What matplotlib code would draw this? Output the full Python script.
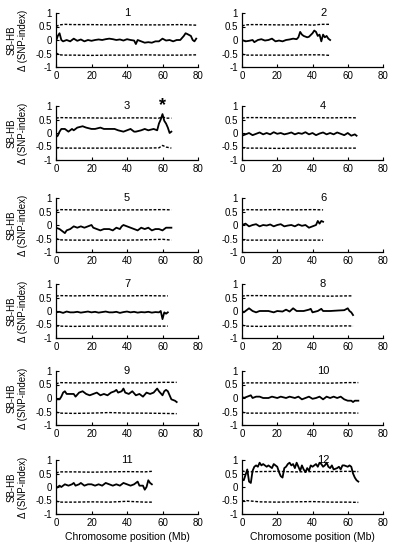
import matplotlib
matplotlib.use("Agg")
import matplotlib.pyplot as plt

plt.rcParams['font.family'] = ['Liberation Sans', 'DejaVu Sans']
plt.rcParams['axes.unicode_minus'] = False

# delta SNP-index per chromosome (position in Mb, value)
pos1 = [0, 1, 2, 3, 4, 6, 8, 10, 12, 14, 16, 18, 20, 22, 24, 26, 28, 30, 32, 34, 36, 38, 40, 42, 44, 45, 46, 48, 50, 52, 54, 56, 58, 60, 62, 64, 66, 68, 70, 72, 73, 74, 76, 77, 78, 79]
d1 = [-0.05, 0.15, 0.25, 0.0, -0.05, 0.0, -0.05, 0.05, -0.03, 0.02, -0.05, 0.0, -0.03, 0.0, 0.02, 0.0, 0.03, 0.05, 0.03, 0.0, 0.02, -0.02, 0.03, 0.0, -0.02, -0.15, 0.0, -0.05, -0.1, -0.08, -0.1, -0.05, -0.05, 0.05, -0.02, 0.0, -0.05, 0.0, 0.0, 0.15, 0.25, 0.22, 0.15, 0.0, -0.05, 0.05]

pos2 = [0, 2, 4, 6, 7, 9, 11, 13, 15, 17, 19, 21, 23, 25, 27, 29, 31, 32, 33, 34, 35, 37, 38, 40, 41, 42, 43, 44, 45, 46, 47, 48, 49, 50]
d2 = [0.0, -0.05, -0.03, 0.0, -0.08, 0.0, 0.03, -0.02, 0.0, 0.05, -0.05, -0.02, -0.05, 0.0, 0.02, 0.05, 0.03, 0.1, 0.3, 0.2, 0.15, 0.1, 0.12, 0.25, 0.35, 0.3, 0.15, 0.2, -0.05, 0.2, 0.1, 0.15, 0.05, 0.0]

pos3 = [0, 1, 2, 3, 5, 7, 9, 10, 12, 15, 17, 20, 22, 25, 27, 30, 33, 35, 38, 40, 42, 44, 45, 48, 50, 52, 55, 57, 58, 59, 60, 61, 62, 63, 64, 65]
d3 = [-0.15, -0.1, 0.05, 0.15, 0.15, 0.05, 0.15, 0.1, 0.2, 0.25, 0.2, 0.15, 0.15, 0.2, 0.15, 0.15, 0.15, 0.1, 0.05, 0.1, 0.15, 0.05, 0.05, 0.1, 0.15, 0.1, 0.15, 0.1, 0.35, 0.5, 0.7, 0.45, 0.35, 0.2, 0.0, 0.05]

pos4 = [0, 2, 4, 6, 8, 10, 12, 14, 16, 18, 20, 22, 24, 26, 28, 30, 32, 34, 36, 38, 40, 42, 44, 46, 48, 50, 52, 54, 56, 58, 60, 62, 64, 65]
d4 = [-0.1, -0.05, 0.0, -0.08, -0.03, 0.02, -0.05, 0.0, -0.05, 0.03, -0.03, 0.0, -0.05, -0.02, 0.02, -0.05, 0.0, -0.03, 0.03, -0.05, 0.0, -0.08, -0.02, 0.02, -0.05, 0.0, -0.05, 0.02, -0.03, -0.08, 0.0, -0.1, -0.05, -0.1]

pos5 = [0, 2, 4, 5, 6, 8, 10, 12, 14, 16, 18, 20, 21, 23, 25, 27, 30, 32, 34, 36, 37, 38, 40, 42, 44, 46, 48, 50, 52, 54, 56, 58, 60, 62, 65]
d5 = [-0.1, -0.15, -0.25, -0.3, -0.2, -0.15, -0.05, -0.1, -0.05, -0.1, -0.05, 0.0, -0.1, -0.15, -0.2, -0.15, -0.15, -0.2, -0.1, -0.15, -0.05, 0.0, -0.05, -0.1, -0.15, -0.2, -0.1, -0.15, -0.1, -0.2, -0.15, -0.15, -0.2, -0.1, -0.1]

pos6 = [0, 2, 4, 6, 8, 10, 12, 14, 16, 18, 20, 22, 24, 26, 28, 30, 32, 34, 36, 38, 40, 42, 43, 44, 45, 46]
d6 = [0.0, 0.05, -0.05, 0.0, 0.03, -0.05, 0.0, -0.02, 0.02, -0.05, 0.0, 0.03, -0.05, -0.02, 0.0, -0.05, 0.02, -0.03, 0.0, -0.1, -0.05, 0.0, 0.15, 0.05, 0.15, 0.12]

pos7 = [0, 2, 4, 6, 8, 10, 12, 14, 16, 18, 20, 22, 24, 26, 28, 30, 32, 34, 36, 38, 40, 42, 44, 46, 48, 50, 52, 54, 56, 58, 59, 60, 61, 62, 63]
d7 = [-0.05, -0.03, -0.07, -0.02, -0.05, -0.05, -0.03, -0.06, -0.04, -0.02, -0.05, -0.03, -0.06, -0.04, -0.02, -0.05, -0.05, -0.03, -0.07, -0.04, -0.02, -0.05, -0.03, -0.06, -0.04, -0.05, -0.03, -0.06, -0.04, -0.05, 0.0, -0.3, -0.05, -0.1, -0.05]

pos8 = [0, 1, 3, 4, 6, 8, 10, 15, 18, 20, 23, 25, 27, 29, 31, 35, 38, 39, 40, 43, 45, 46, 50, 55, 58, 60, 61, 62, 63]
d8 = [0.0, -0.05, 0.05, 0.1, 0.0, -0.05, 0.0, 0.0, -0.05, 0.0, -0.02, 0.05, -0.02, 0.1, 0.0, 0.0, 0.05, 0.08, -0.05, 0.0, 0.08, 0.0, 0.0, 0.02, 0.03, 0.1, 0.0, -0.05, -0.15]

pos9 = [0, 2, 3, 4, 5, 6, 8, 10, 11, 13, 15, 17, 19, 21, 23, 25, 27, 29, 31, 33, 34, 35, 37, 38, 39, 41, 43, 45, 47, 49, 51, 53, 55, 57, 58, 60, 61, 62, 63, 64, 65, 67, 68]
d9 = [-0.05, -0.05, 0.05, 0.2, 0.25, 0.15, 0.15, 0.15, 0.05, 0.2, 0.25, 0.15, 0.1, 0.15, 0.2, 0.1, 0.15, 0.1, 0.2, 0.25, 0.3, 0.2, 0.25, 0.35, 0.2, 0.15, 0.25, 0.1, 0.15, 0.05, 0.2, 0.15, 0.2, 0.35, 0.25, 0.1, 0.25, 0.3, 0.25, 0.1, -0.05, -0.1, -0.15]

pos10 = [0, 1, 3, 5, 6, 8, 10, 12, 15, 17, 20, 22, 25, 27, 30, 32, 34, 36, 38, 40, 42, 44, 46, 48, 50, 52, 54, 56, 58, 60, 62, 63, 64, 66]
d10 = [0.05, 0.0, 0.05, 0.1, 0.0, 0.05, 0.05, 0.0, 0.0, 0.05, 0.0, 0.05, 0.0, 0.05, 0.0, 0.05, -0.05, 0.0, 0.05, -0.03, 0.0, 0.05, -0.05, 0.05, 0.0, 0.05, 0.0, 0.05, -0.05, -0.1, -0.1, -0.15, -0.1, -0.1]

pos11 = [0, 1, 2, 3, 5, 7, 9, 10, 11, 13, 14, 16, 18, 20, 22, 24, 26, 28, 30, 32, 34, 36, 38, 40, 42, 44, 46, 47, 49, 50, 51, 52, 53, 54]
d11 = [-0.05, 0.0, 0.05, 0.0, 0.1, 0.05, 0.1, 0.15, 0.05, 0.1, 0.15, 0.05, 0.1, 0.1, 0.05, 0.1, 0.05, 0.15, 0.1, 0.05, 0.1, 0.05, 0.15, 0.1, 0.05, 0.1, 0.2, 0.05, 0.05, -0.1, 0.0, 0.25, 0.15, 0.1]

pos12 = [0, 1, 2, 3, 4, 5, 6, 7, 8, 9, 10, 11, 12, 14, 15, 17, 18, 20, 21, 22, 23, 24, 25, 26, 27, 28, 29, 30, 31, 32, 33, 34, 35, 36, 37, 38, 39, 40, 42, 43, 44, 45, 46, 47, 48, 49, 50, 51, 52, 54, 55, 56, 57, 58, 60, 61, 62, 63, 64, 65, 66]
d12 = [0.3, 0.25, 0.45, 0.65, 0.2, 0.15, 0.6, 0.75, 0.8, 0.75, 0.9, 0.8, 0.85, 0.75, 0.8, 0.7, 0.85, 0.75, 0.55, 0.4, 0.35, 0.7, 0.75, 0.85, 0.9, 0.8, 0.85, 0.7, 0.9, 0.75, 0.6, 0.8, 0.65, 0.55, 0.7, 0.6, 0.8, 0.75, 0.85, 0.75, 0.9, 0.85, 0.75, 0.8, 0.9, 0.75, 0.7, 0.8, 0.65, 0.7, 0.75, 0.65, 0.8, 0.8, 0.75, 0.8, 0.75, 0.5, 0.35, 0.25, 0.2]

positions = [pos1, pos2, pos3, pos4, pos5, pos6, pos7, pos8, pos9, pos10, pos11, pos12]
deltas = [d1, d2, d3, d4, d5, d6, d7, d8, d9, d10, d11, d12]

# 95% confidence thresholds (upper / lower), sampled along each chromosome
thr_pos = [
    [0, 2, 5, 10, 20, 30, 40, 50, 60, 70, 79],
    [0, 2, 5, 10, 20, 30, 35, 40, 45, 50],
    [0, 2, 10, 20, 30, 40, 50, 58, 60, 62, 65],
    [0, 2, 10, 20, 30, 40, 50, 60, 65],
    [0, 2, 10, 20, 30, 40, 50, 60, 65],
    [0, 2, 10, 20, 30, 40, 46],
    [0, 2, 10, 20, 30, 40, 50, 60, 63],
    [0, 2, 10, 20, 30, 40, 50, 60, 63],
    [0, 2, 10, 20, 30, 40, 50, 60, 68],
    [0, 2, 10, 20, 30, 40, 50, 60, 66],
    [0, 2, 10, 20, 30, 40, 50, 54],
    [0, 2, 10, 20, 30, 40, 50, 60, 66],
]
thr_upper = [
    [0.5, 0.56, 0.58, 0.57, 0.57, 0.56, 0.57, 0.56, 0.56, 0.57, 0.55],
    [0.52, 0.56, 0.57, 0.57, 0.56, 0.56, 0.57, 0.55, 0.58, 0.58],
    [0.55, 0.57, 0.56, 0.56, 0.55, 0.56, 0.56, 0.55, 0.6, 0.55, 0.55],
    [0.55, 0.57, 0.57, 0.56, 0.56, 0.57, 0.56, 0.57, 0.56],
    [0.52, 0.57, 0.56, 0.56, 0.55, 0.56, 0.56, 0.57, 0.56],
    [0.55, 0.57, 0.56, 0.57, 0.56, 0.57, 0.56],
    [0.55, 0.57, 0.56, 0.57, 0.56, 0.56, 0.57, 0.56, 0.56],
    [0.55, 0.57, 0.57, 0.56, 0.56, 0.56, 0.55, 0.56, 0.56],
    [0.52, 0.57, 0.56, 0.56, 0.57, 0.56, 0.56, 0.58, 0.58],
    [0.55, 0.56, 0.56, 0.56, 0.55, 0.56, 0.55, 0.57, 0.57],
    [0.52, 0.56, 0.56, 0.55, 0.56, 0.57, 0.56, 0.58],
    [0.6, 0.56, 0.57, 0.58, 0.56, 0.57, 0.57, 0.58, 0.57],
]
thr_lower = [
    [-0.48, -0.55, -0.56, -0.56, -0.57, -0.56, -0.56, -0.55, -0.56, -0.56, -0.55],
    [-0.52, -0.56, -0.56, -0.56, -0.56, -0.56, -0.55, -0.55, -0.55, -0.57],
    [-0.55, -0.56, -0.56, -0.56, -0.56, -0.56, -0.56, -0.55, -0.46, -0.52, -0.56],
    [-0.55, -0.56, -0.56, -0.57, -0.56, -0.56, -0.56, -0.56, -0.56],
    [-0.5, -0.55, -0.56, -0.56, -0.56, -0.56, -0.55, -0.53, -0.56],
    [-0.55, -0.56, -0.56, -0.56, -0.56, -0.56, -0.56],
    [-0.55, -0.56, -0.57, -0.56, -0.56, -0.56, -0.56, -0.56, -0.56],
    [-0.52, -0.56, -0.57, -0.56, -0.56, -0.55, -0.56, -0.55, -0.56],
    [-0.52, -0.56, -0.57, -0.56, -0.54, -0.56, -0.56, -0.57, -0.58],
    [-0.52, -0.56, -0.56, -0.56, -0.55, -0.56, -0.56, -0.55, -0.56],
    [-0.52, -0.56, -0.56, -0.55, -0.56, -0.53, -0.56, -0.56],
    [-0.52, -0.5, -0.55, -0.56, -0.55, -0.54, -0.56, -0.56, -0.57],
]

chrom_labels = ['1', '2', '3', '4', '5', '6', '7', '8', '9', '10', '11', '12']
yticks = [-1, -0.5, 0, 0.5, 1]
ytick_labels = ['-1', '-0.5', '0', '0.5', '1']
xticks = [0, 20, 40, 60, 80]

W, H = 394, 550
fig = plt.figure(figsize=(W / 100, H / 100), dpi=100)

# pixel layout of panels (top of y=1 line for each row)
row_tops = [13, 106, 198, 284, 371, 460]
col_left = [56, 242]
col_width = [142, 141]
ax_h = 54

axes = []
for i in range(12):
    r, c = divmod(i, 2)
    left = col_left[c] / W
    bottom = 1 - (row_tops[r] + ax_h) / H
    ax = fig.add_axes([left, bottom, col_width[c] / W, ax_h / H])
    axes.append(ax)

    ax.plot(thr_pos[i], thr_upper[i], color='black', lw=1.0, ls=(0, (2, 1.2)))
    ax.plot(thr_pos[i], thr_lower[i], color='black', lw=1.0, ls=(0, (2, 1.2)))
    ax.plot(positions[i], deltas[i], color='black', lw=1.3)

    ax.set_xlim(0, 80)
    ax.set_ylim(-1, 1)
    ax.set_xticks(xticks)
    ax.set_yticks(yticks)
    ax.set_yticklabels(ytick_labels)
    ax.tick_params(direction='in', length=2.5, width=0.8, labelsize=7, pad=3)
    ax.spines['top'].set_visible(False)
    ax.spines['right'].set_visible(False)
    for s in ['left', 'bottom']:
        ax.spines[s].set_linewidth(0.9)

    tx = 40 if c == 0 else 46
    ax.text(tx, 1.0, chrom_labels[i], ha='center', va='center', fontsize=8)

    if c == 0:
        yc = 1 - (row_tops[r] + ax_h / 2) / H
        fig.text(12 / W, yc, 'SB-HB', rotation=90, ha='center', va='center', fontsize=7)
        fig.text(23 / W, yc, 'Δ (SNP-index)', rotation=90, ha='center', va='center', fontsize=7)

# significant QTL on chromosome 3
axes[2].text(60, 1.02, '*', ha='center', va='center', fontsize=13, fontweight='bold')

for c in range(2):
    xc = (col_left[c] + col_width[c] / 2) / W
    fig.text(xc, 1 - 537 / H, 'Chromosome position (Mb)', ha='center', va='center', fontsize=7.5)

fig.savefig('out.png', dpi=100)
